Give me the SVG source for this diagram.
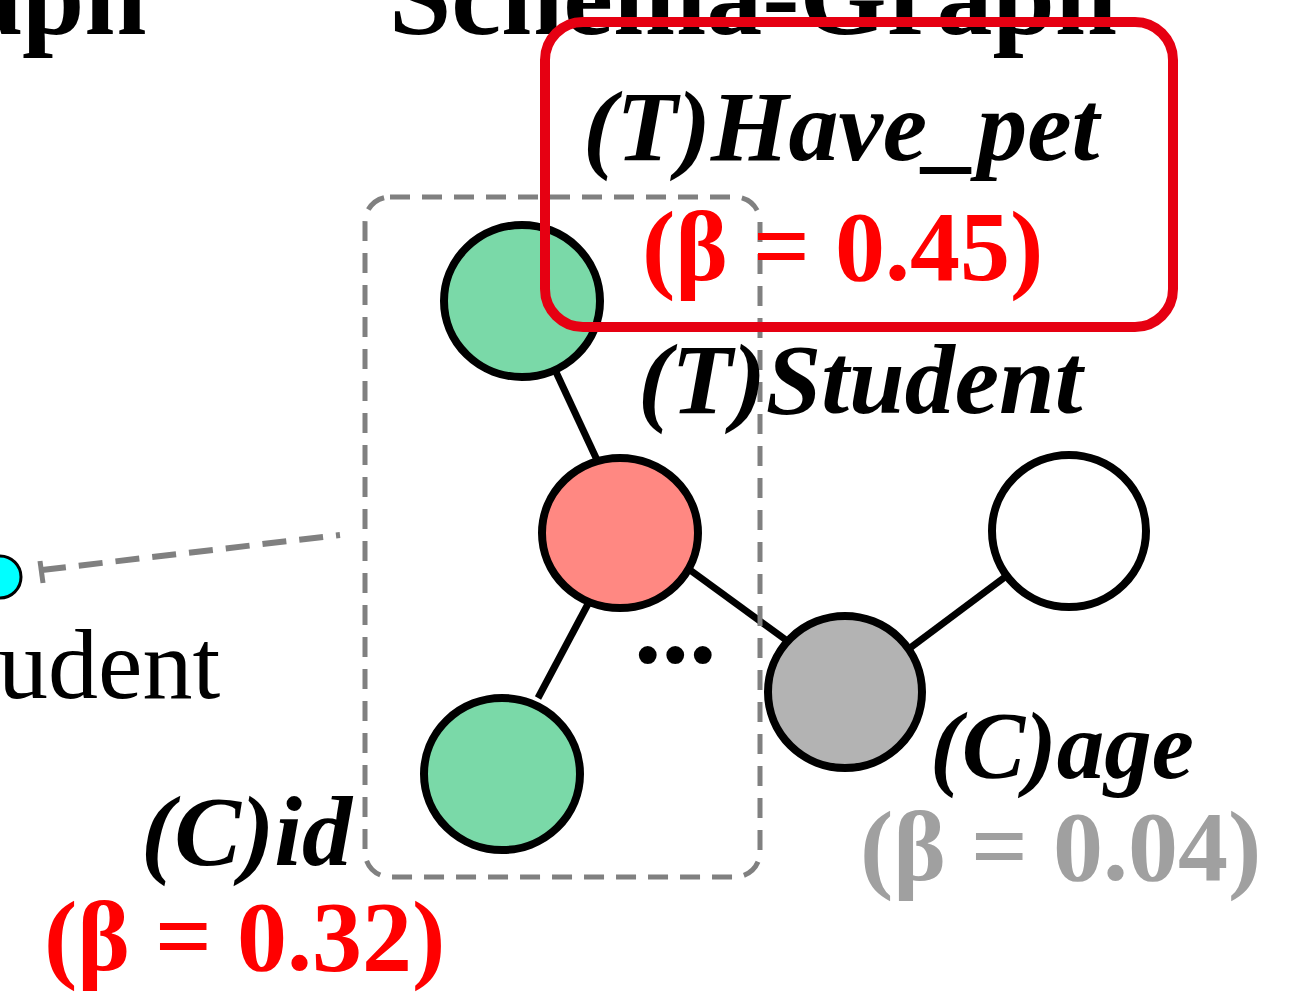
<svg xmlns="http://www.w3.org/2000/svg" width="1294" height="999" viewBox="0 0 1294 999">
<style>
.bi{font-family:"Liberation Serif","Times New Roman",serif;font-weight:bold;font-style:italic;fill:#000}
.b{font-family:"Liberation Serif","Times New Roman",serif;font-weight:bold}
.r{font-family:"Liberation Serif","Times New Roman",serif}
.node{stroke:#000;stroke-width:8}
.edge{stroke:#000;stroke-width:7;fill:none}
</style>
<rect width="1294" height="999" fill="#fff"/>
<g id="titles">
<text class="b" x="-34" y="34" font-size="112">aph</text>
<text class="b" x="389" y="34" font-size="112">Schema-Graph</text>
</g>
<g id="left-node">
<circle cx="0" cy="577" r="21" fill="#00ffff" stroke="#000" stroke-width="3"/>
<text class="r" x="-2" y="698" font-size="100">udent</text>
</g>
<g id="connectors">
<line x1="42" y1="570" x2="340" y2="535" stroke="#808080" stroke-width="6" stroke-dasharray="24 13"/>
<line x1="40" y1="561" x2="43" y2="583" stroke="#808080" stroke-width="5"/>
<line class="edge" x1="556" y1="372" x2="597" y2="460"/>
<line class="edge" x1="588" y1="604" x2="538" y2="698"/>
<line class="edge" x1="690" y1="570" x2="786" y2="640"/>
<line class="edge" x1="910" y1="648" x2="1005" y2="577"/>
</g>
<g id="group-box">
<rect x="365" y="197" width="395" height="680" rx="25" fill="none" stroke="#808080" stroke-width="5" stroke-dasharray="20 12"/>
</g>
<g id="node-havepet"><ellipse class="node" cx="522" cy="301" rx="78" ry="76" fill="#7ad9a8"/></g>
<g id="node-student"><ellipse class="node" cx="620" cy="533" rx="78" ry="75" fill="#ff8882"/></g>
<g id="node-id"><ellipse class="node" cx="502" cy="774" rx="78" ry="76" fill="#7ad9a8"/></g>
<g id="node-age"><ellipse class="node" cx="845" cy="692" rx="77" ry="76" fill="#b3b3b3"/></g>
<g id="node-white"><ellipse class="node" cx="1069" cy="531" rx="77" ry="76" fill="#fff"/></g>
<g id="highlight">
<rect x="545" y="22" width="628" height="305" rx="38" fill="none" stroke="#e60012" stroke-width="10"/>
<text class="bi" x="583" y="160" font-size="100">(T)Have_pet</text>
<text class="b" x="642" y="280" font-size="100" fill="#ff0000">(β = 0.45)</text>
</g>
<g id="labels">
<text class="bi" x="638" y="413" font-size="100">(T)Student</text>
<text class="b" x="634" y="662" font-size="110">...</text>
<text class="bi" x="930" y="778" font-size="95">(C)age</text>
<text class="b" x="860" y="880" font-size="100" fill="#a0a0a0">(β = 0.04)</text>
<text class="bi" x="141" y="865" font-size="100">(C)id</text>
<text class="b" x="44" y="970" font-size="100" fill="#ff0000">(β = 0.32)</text>
</g>
</svg>
